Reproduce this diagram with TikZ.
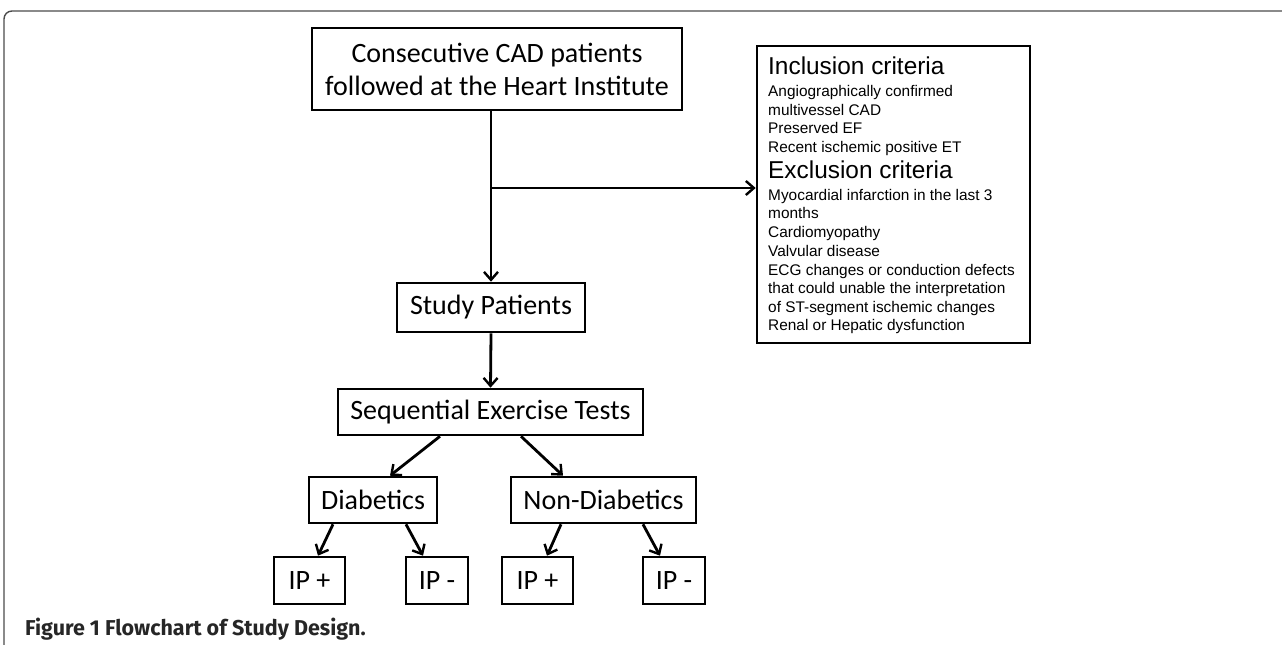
\documentclass[tikz,border=0pt]{standalone}
\usepackage{fontspec}
\setmainfont{Carlito}
\newfontfamily\arialf{Liberation Sans}
\newfontfamily\capf{Fira Sans}
\usetikzlibrary{arrows.meta,calc}
\begin{document}
\begin{tikzpicture}[x=1pt,y=-1pt,
  box/.style={draw, line width=2.6pt, inner sep=0pt, align=center,
    font=\fontsize{28}{33}\selectfont},
  arr/.style={line width=2.8pt, -{Straight Barb[length=8pt,width=14pt,line width=2.4pt]}},
  crittext/.style={anchor=base west, inner sep=0pt, font=\arialf\fontsize{15.4}{18.6}\selectfont},
  crithead/.style={anchor=base west, inner sep=0pt, font=\arialf\fontsize{24.4}{28}\selectfont},
  frame/.style={line width=1.4pt, draw=black!70, rounded corners=8pt}]
\useasboundingbox (0,0) rectangle (1282,645);
\draw[frame] (4,650) -- (4,11) -- (1290,11);

\node[box, minimum width=370pt, minimum height=82pt] (top) at (497,69)
  {Consecutive CAD patients\\followed at the Heart Institute};
\node[box, minimum width=188pt, minimum height=49pt] (study) at (491,307.5) {Study Patients};
\node[box, minimum width=305pt, minimum height=46pt] (seq) at (490.5,412) {Sequential Exercise Tests};
\node[box, minimum width=128pt, minimum height=46pt] (diab) at (373,500) {Diabetics};
\node[box, minimum width=185pt, minimum height=46pt] (nond) at (603.5,500) {Non-Diabetics};
\node[box, minimum width=71pt, minimum height=47pt] (ipa) at (309.5,580.5) {IP +};
\node[box, minimum width=62pt, minimum height=47pt] (ipb) at (437,580.5) {IP -};
\node[box, minimum width=71pt, minimum height=47pt] (ipc) at (537.5,580.5) {IP +};
\node[box, minimum width=62pt, minimum height=47pt] (ipd) at (674,580.5) {IP -};

\node[draw, line width=2.6pt, inner sep=0pt, minimum width=273pt, minimum height=297pt] (crit) at (893.5,194.5) {};
\node[crithead] (h1) at (768,74) {Inclusion criteria};
\foreach \yy/\tt [count=\i] in {96.5/Angiographically confirmed, 115/multivessel CAD,
  133.5/Preserved EF, 152/Recent ischemic positive ET}
  \node[crittext] (inc\i) at (768,\yy) {\tt};
\node[crithead] (h2) at (768,178) {Exclusion criteria};
\foreach \yy/\tt [count=\i] in {200/Myocardial infarction in the last 3, 218.5/months,
  237/Cardiomyopathy, 256/Valvular disease, 275/ECG changes or conduction defects,
  293.5/that could unable the interpretation, 312/of ST-segment ischemic changes,
  330.5/Renal or Hepatic dysfunction}
  \node[crittext] (exc\i) at (768,\yy) {\tt};

\coordinate (br) at (491,188);
\draw[arr] (top.south -| study.north) -- (study.north);
\draw[arr] (br) -- (crit.west |- br);
\draw[arr] (study.south) -- (seq.north);
\draw[arr] ([xshift=-50.5pt]seq.south) -- ([xshift=17pt]diab.north);
\draw[arr] ([xshift=30.5pt]seq.south) -- ([xshift=-40.5pt]nond.north);
\draw[arr] ([xshift=-40pt]diab.south) -- ([xshift=8.5pt]ipa.north);
\draw[arr] ([xshift=33pt]diab.south) -- ([xshift=-14pt]ipb.north);
\draw[arr] ([xshift=-42.5pt]nond.south) -- ([xshift=9.5pt]ipc.north);
\draw[arr] ([xshift=39.5pt]nond.south) -- ([xshift=-14pt]ipd.north);

\node[anchor=base west, inner sep=0pt, text=black!85, font=\capf\bfseries\fontsize{21.5}{25}\selectfont] (cap) at (25,635)
  {Figure 1 Flowchart of Study Design.};
\end{tikzpicture}
\end{document}
